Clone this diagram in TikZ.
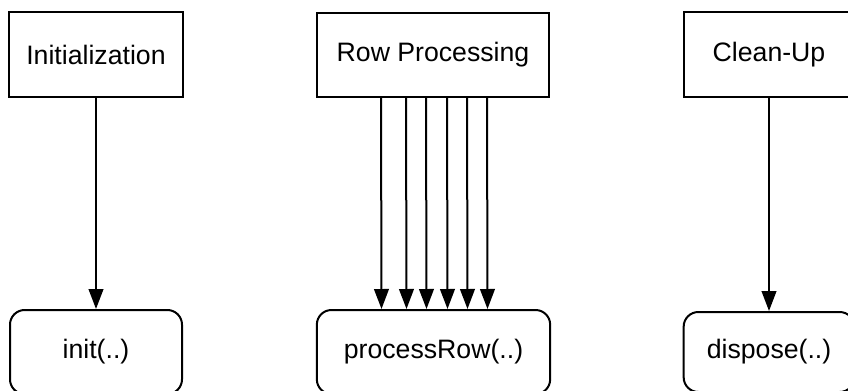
\documentclass[tikz,border=0pt]{standalone}
\usepackage{fontspec}
\setmainfont{Liberation Sans}
\usepackage{tikz}
\usetikzlibrary{shapes,arrows.meta,calc}
\tikzstyle{phase} = [rectangle, draw, line width=1.5pt, fill=white,
    inner sep=0pt, minimum height=63pt, font=\fontsize{20}{24}\selectfont]
\tikzstyle{call} = [rectangle, draw, line width=1.5pt, fill=white, rounded corners=11pt,
    inner sep=0pt, minimum height=63pt, font=\fontsize{20}{24}\selectfont]
\tikzstyle{line} = [draw, line width=1.5pt, -{Triangle[length=15pt,width=11pt]}]

\begin{document}
\begin{tikzpicture}[x=0.75pt, y=0.75pt]
    \useasboundingbox (0,0) rectangle (848,390);
    % Place nodes
    \node [phase, minimum width=130pt] (init) at (96,335.5) {Initialization};
    \node [phase, minimum width=174pt] (rowproc) at (433,335) {Row Processing};
    \node [phase, minimum width=128pt] (cleanup) at (769,335.5) {Clean-Up};
    \node [call, minimum width=129pt] (initcall) at (96,38) {init(..)};
    \node [call, minimum width=175pt] (rowcall) at (433.5,38) {processRow(..)};
    \node [call, minimum width=128pt, minimum height=60pt] (disposecall) at (769,38) {dispose(..)};
    % Draw edges
    \path [line] (init) -- (initcall);
    \foreach \dx in {-52,-27,-7,14,34,54}
        \path [line] ($(rowproc.south)+(\dx,0)$) -- ($(rowcall.north)+(\dx,0)$);
    \path [line] (cleanup) -- (disposecall);
\end{tikzpicture}
\end{document}
